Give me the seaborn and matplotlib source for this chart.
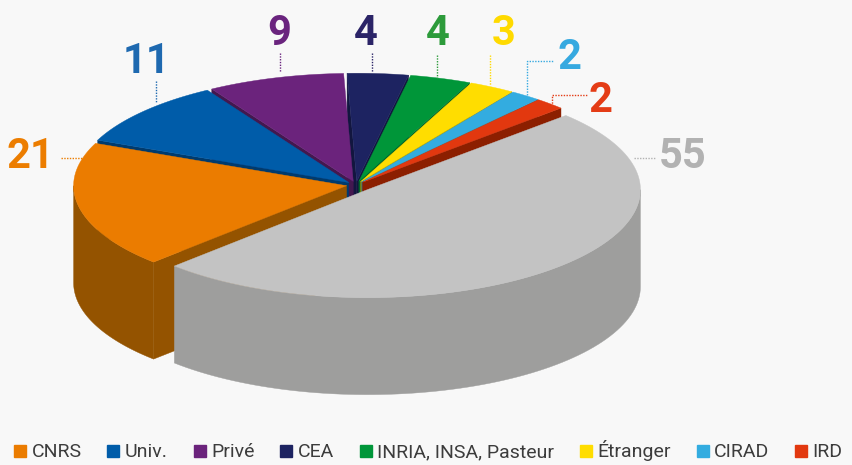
import numpy as np
import matplotlib.pyplot as plt
import seaborn as sns
from matplotlib.lines import Line2D

# données du camembert (sens horaire, à partir du CNRS)
categories = ['CNRS', 'Univ.', 'Privé', 'CEA', 'INRIA, INSA, Pasteur', 'Étranger', 'CIRAD', 'IRD', 'Autres']
values = [21, 11, 9, 4, 4, 3, 2, 2, 55]

top_colors = ['#EB7C00', '#005CA9', '#6B237C', '#1D2361', '#009639', '#FFDD00', '#33ACE0', '#E2380F', '#C3C3C3']
side_colors = ['#945300', '#003B6E', '#43184F', '#12163F', '#006127', '#A89200', '#23728F', '#8C1F00', '#9E9E9D']
label_colors = ['#EC7D00', '#1E69B0', '#6A247E', '#2B2467', '#2D9B3B', '#FFDA00', '#36A9E0', '#E43C16', '#B2B2B2']

# géométrie (pixels)
CX, CY, RX, RY, DEPTH = 356, 185, 273, 108, 97
START = 225
explode = [0.035] * 8 + [0.06]

# position des étiquettes (centre x, ligne de base), lignes pointillées
label_xy = [(30, 168), (147, 73), (279, 45), (366, 45), (438, 45), (504, 45), (570, 69), (601, 112), (683, 168)]
leaders = [
    [(61, 158), (83, 158)],
    [(156, 81), (156, 102)],
    [(280, 53), (280, 72)],
    [(372, 53), (372, 72)],
    [(437, 55), (437, 78)],
    [(490, 55), (490, 85)],
    [(527, 95), (527, 61), (553, 61)],
    [(552, 106), (552, 95), (587, 95)],
    [(634, 158), (656, 158)],
]

sns.set_theme(style='white')
plt.rcParams['font.family'] = ['Roboto', 'DejaVu Sans']

fig = plt.figure(figsize=(8.53, 4.65), dpi=100, facecolor='#F8F8F8')
ax = fig.add_axes([0, 0, 1, 1])
ax.set_facecolor('#F8F8F8')
ax.set_xlim(0, 853)
ax.set_ylim(465, 0)
ax.axis('off')

total = sum(values)
bounds = START - 360 * np.concatenate([[0], np.cumsum(values)]) / total


def pt(th, ox, oy, z=0.0):
    t = np.radians(th)
    return CX + ox + RX * np.cos(t), CY + oy - RY * np.sin(t) + z * DEPTH


slices = []
for i in range(len(values)):
    a1, a2 = bounds[i + 1], bounds[i]  # a1 < a2
    mid = np.radians((a1 + a2) / 2)
    ox = explode[i] * RX * np.cos(mid)
    oy = -explode[i] * RY * np.sin(mid)
    slices.append((np.sin(mid), i, a1, a2, ox, oy))

# du fond vers l'avant
for _, i, a1, a2, ox, oy in sorted(slices, reverse=True):
    c0 = (CX + ox, CY + oy)
    # paroi extérieure (partie visible : 180° à 360°)
    lo, hi = a1 % 360, a1 % 360 + (a2 - a1)
    for base in (0, 360, -360):
        s, e = max(lo, 180 + base), min(hi, 360 + base)
        if e > s:
            th = np.linspace(s, e, 80)
            xt, yt = pt(th, ox, oy)
            xb, yb = pt(th[::-1], ox, oy, 1)
            ax.fill(np.r_[xt, xb], np.r_[yt, yb], color=side_colors[i], lw=0.3)
    # faces radiales
    for ang, vis in ((a2, np.cos(np.radians(a2)) < 0), (a1, np.cos(np.radians(a1)) > 0)):
        if vis:
            xr, yr = pt(ang, ox, oy)
            ax.fill([c0[0], xr, xr, c0[0]], [c0[1], yr, yr + DEPTH, c0[1] + DEPTH],
                    color=side_colors[i], lw=0.3)
    # dessus
    th = np.linspace(a1, a2, 120)
    xt, yt = pt(th, ox, oy)
    ax.fill(np.r_[c0[0], xt], np.r_[c0[1], yt], color=top_colors[i], lw=0.3)

# étiquettes
for i, v in enumerate(values):
    x, y = label_xy[i]
    ax.text(x, y, str(v), ha='center', va='baseline', fontsize=30, weight='bold',
            color=label_colors[i])
    lx, ly = zip(*leaders[i])
    ax.plot(lx, ly, color=label_colors[i], lw=1, ls=(0, (1, 1)))

handles = [Line2D([], [], marker='s', ls='', color=c, markersize=8) for c in top_colors[:8]]
fig.legend(handles, categories[:8], loc='lower center', bbox_to_anchor=(0.5, -0.03), ncol=8,
           frameon=False, handletextpad=0.1, columnspacing=1.12, handlelength=1.0,
           labelcolor='#3C3C3C', prop={'size': 14})

fig.savefig('out.png', dpi=100, facecolor=fig.get_facecolor())
